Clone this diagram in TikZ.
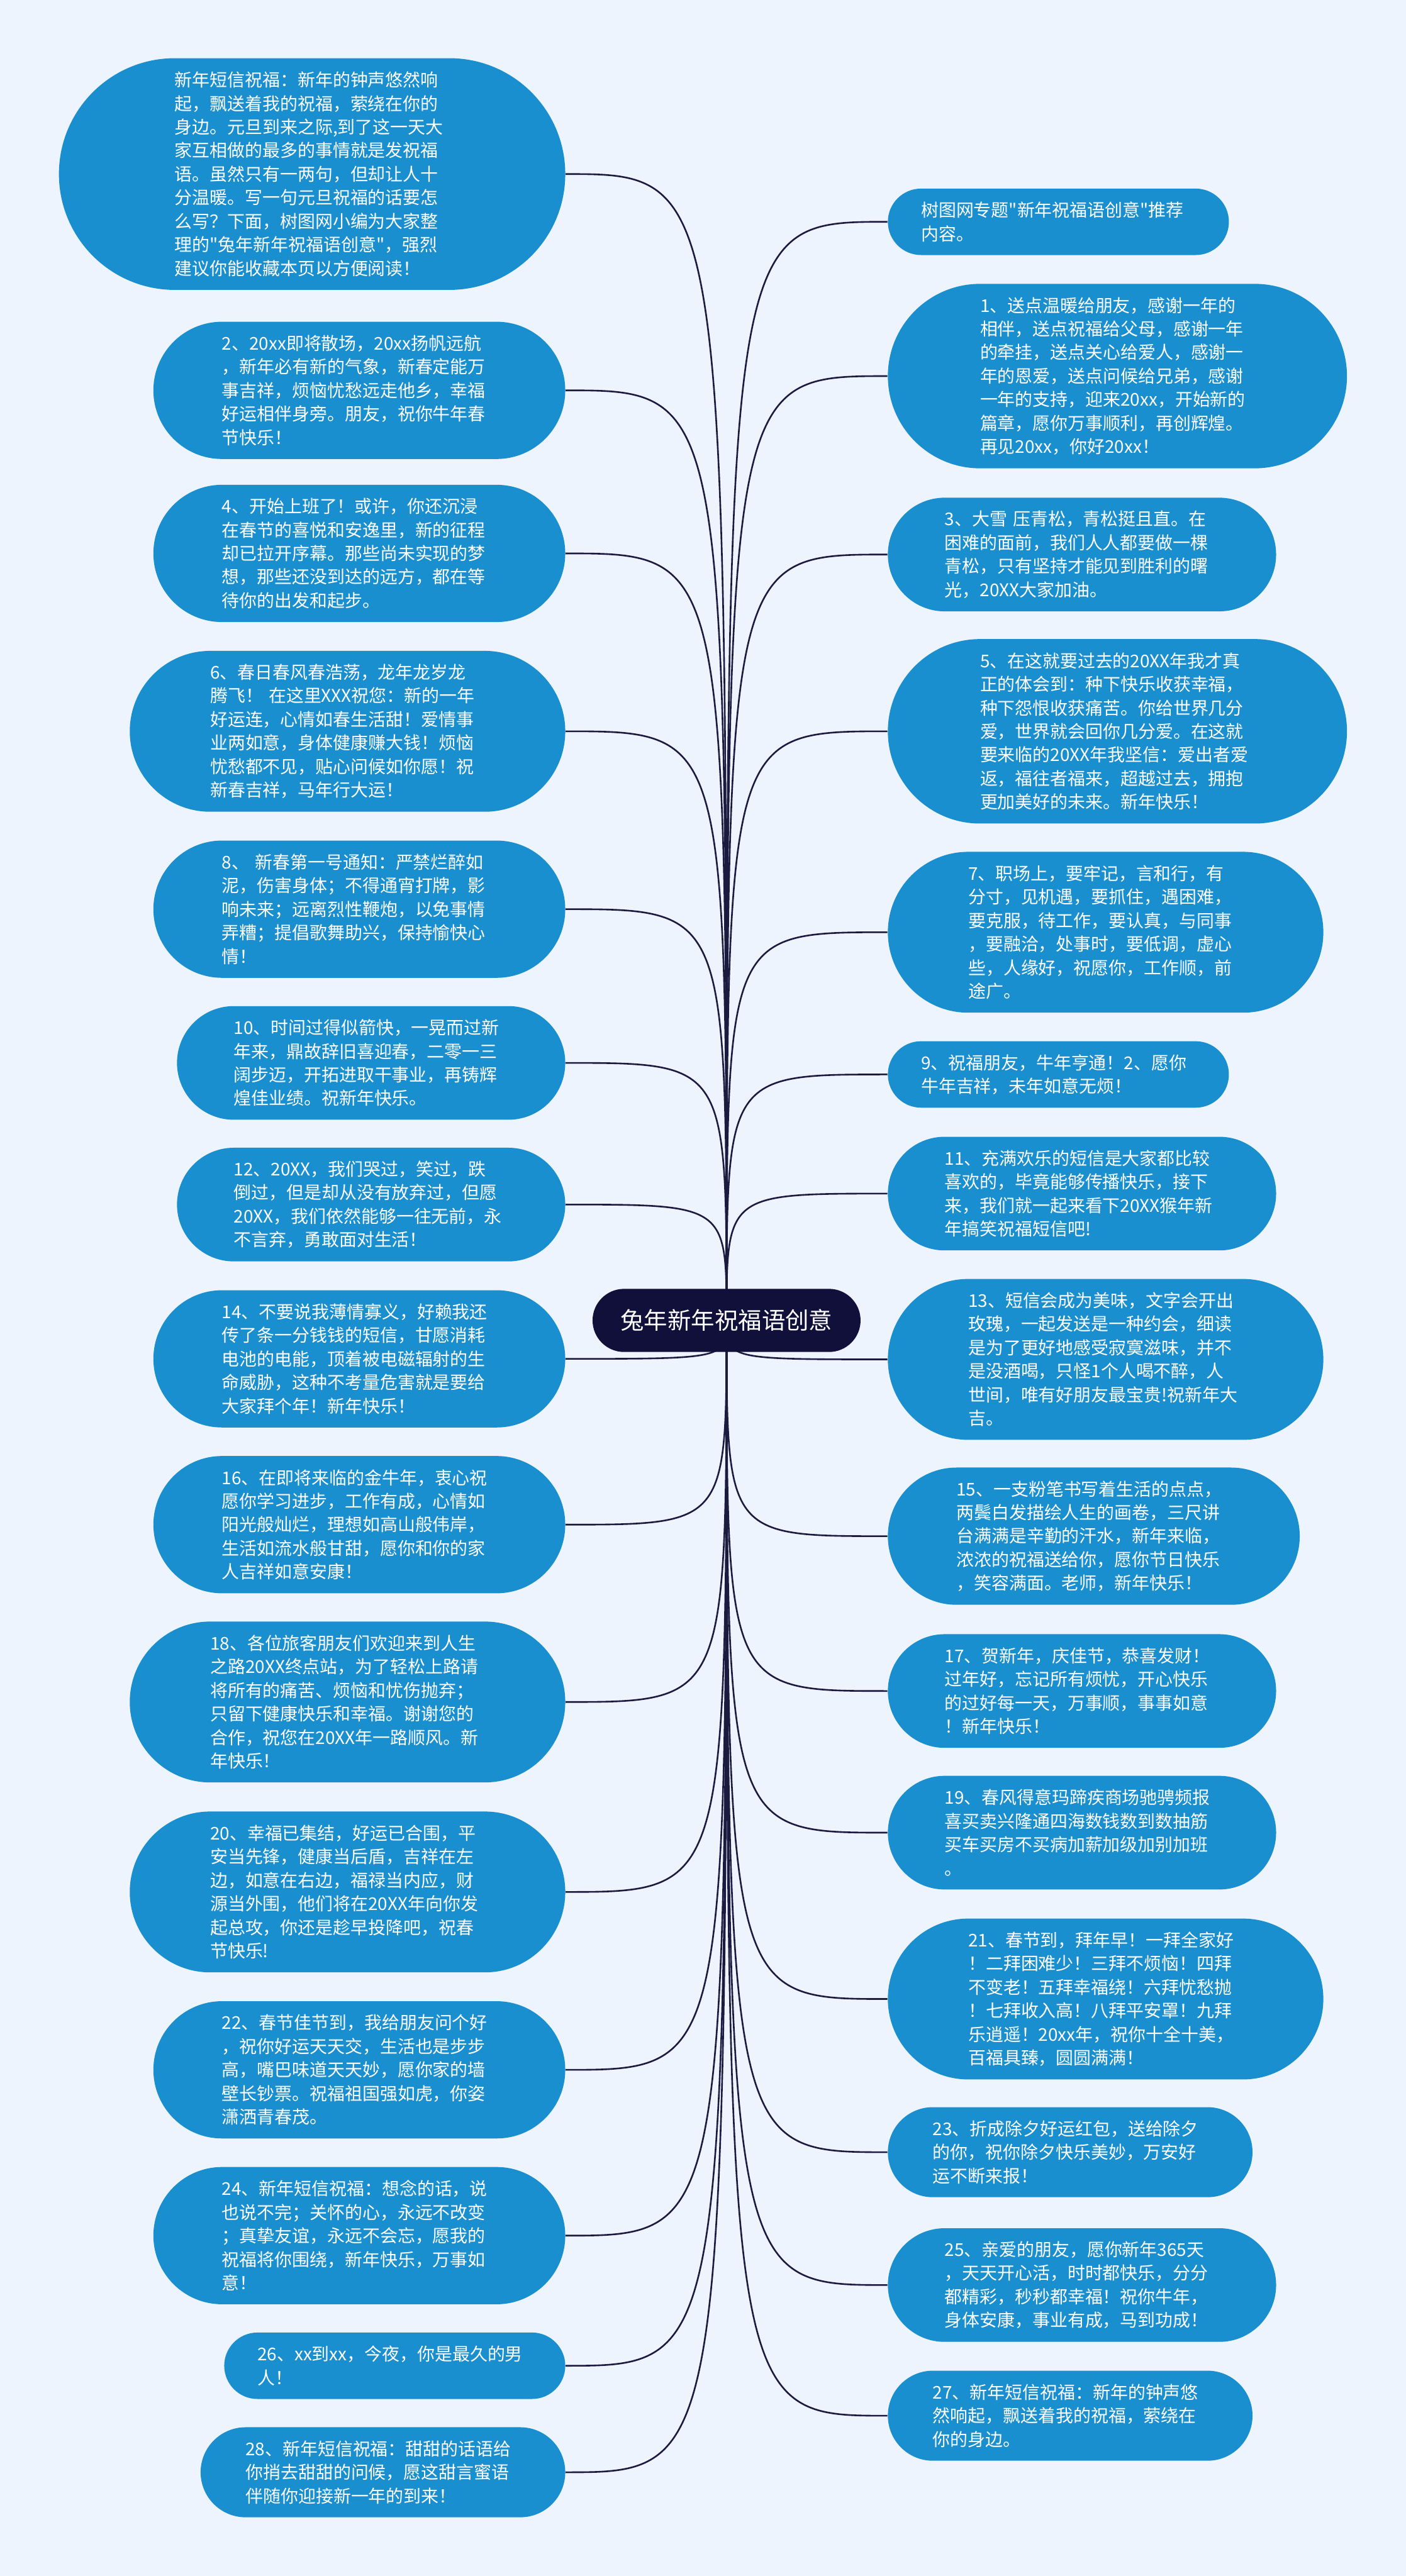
\documentclass[tikz,border=0pt]{standalone}
\usepackage{fontspec}
\newfontfamily\cjk{Noto Sans CJK SC}
\usetikzlibrary{shapes.misc,backgrounds}
\definecolor{pageblue}{HTML}{EEF4FD}
\definecolor{wishblue}{HTML}{1A8FD0}
\definecolor{rootnavy}{HTML}{10103A}
\definecolor{linknavy}{HTML}{1B1B3F}

\begin{document}
\begin{tikzpicture}[
    wish/.style={rounded rectangle,fill=wishblue,text=white,inner xsep=0pt,inner ysep=0pt,text width=5cm,align=left,minimum height=#1cm,minimum width=5cm+#1cm,font=\cjk\fontsize{9.1pt}{12.2pt}\selectfont},
    root/.style={rounded rectangle,fill=rootnavy,text=white,inner xsep=0pt,minimum height=1.15cm,minimum width=4.88cm,font=\cjk\fontsize{12.2pt}{14pt}\selectfont},
    link/.style={linknavy,line width=0.85pt}
  ]
    \useasboundingbox (0,0) rectangle (25.6,-46.92);

    \node[root] (root) at (13.23,-24.05) {兔年新年祝福语创意};

    % left column
    \node[wish=4.22,anchor=east] (l0) at (10.30,-3.17) {新年短信祝福：新年的钟声悠然响\\起，飘送着我的祝福，萦绕在你的\\身边。元旦到来之际,到了这一天大\\家互相做的最多的事情就是发祝福\\语。虽然只有一两句，但却让人十\\分温暖。写一句元旦祝福的话要怎\\么写？下面，树图网小编为大家整\\理的"兔年新年祝福语创意"，强烈\\建议你能收藏本页以方便阅读！};
    \node[wish=2.50,anchor=east] (l2) at (10.30,-7.11) {2、20xx即将散场，20xx扬帆远航\\，新年必有新的气象，新春定能万\\事吉祥，烦恼忧愁远走他乡，幸福\\好运相伴身旁。朋友，祝你牛年春\\节快乐！};
    \node[wish=2.50,anchor=east] (l4) at (10.30,-10.08) {4、开始上班了！或许，你还沉浸\\在春节的喜悦和安逸里，新的征程\\却已拉开序幕。那些尚未实现的梦\\想，那些还没到达的远方，都在等\\待你的出发和起步。};
    \node[wish=2.93,anchor=east] (l6) at (10.30,-13.32) {6、春日春风春浩荡，龙年龙岁龙\\腾飞！ 在这里XXX祝您：新的一年\\好运连，心情如春生活甜！爱情事\\业两如意，身体健康赚大钱！烦恼\\忧愁都不见，贴心问候如你愿！祝\\新春吉祥，马年行大运！};
    \node[wish=2.50,anchor=east] (l8) at (10.30,-16.56) {8、 新春第一号通知：严禁烂醉如\\泥，伤害身体；不得通宵打牌，影\\响未来；远离烈性鞭炮，以免事情\\弄糟；提倡歌舞助兴，保持愉快心\\情！};
    \node[wish=2.07,anchor=east] (l10) at (10.30,-19.36) {10、时间过得似箭快，一晃而过新\\年来，鼎故辞旧喜迎春，二零一三\\阔步迈，开拓进取干事业，再铸辉\\煌佳业绩。祝新年快乐。};
    \node[wish=2.07,anchor=east] (l12) at (10.30,-21.94) {12、20XX，我们哭过，笑过，跌\\倒过，但是却从没有放弃过，但愿\\20XX，我们依然能够一往无前，永\\不言弃，勇敢面对生活！};
    \node[wish=2.50,anchor=east] (l14) at (10.30,-24.75) {14、不要说我薄情寡义，好赖我还\\传了条一分钱钱的短信，甘愿消耗\\电池的电能，顶着被电磁辐射的生\\命威胁，这种不考量危害就是要给\\大家拜个年！新年快乐！};
    \node[wish=2.50,anchor=east] (l16) at (10.30,-27.77) {16、在即将来临的金牛年，衷心祝\\愿你学习进步，工作有成，心情如\\阳光般灿烂，理想如高山般伟岸，\\生活如流水般甘甜，愿你和你的家\\人吉祥如意安康！};
    \node[wish=2.93,anchor=east] (l18) at (10.30,-31.00) {18、各位旅客朋友们欢迎来到人生\\之路20XX终点站，为了轻松上路请\\将所有的痛苦、烦恼和忧伤抛弃；\\只留下健康快乐和幸福。谢谢您的\\合作，祝您在20XX年一路顺风。新\\年快乐！};
    \node[wish=2.93,anchor=east] (l20) at (10.30,-34.46) {20、幸福已集结，好运已合围，平\\安当先锋，健康当后盾，吉祥在左\\边，如意在右边，福禄当内应，财\\源当外围，他们将在20XX年向你发\\起总攻，你还是趁早投降吧，祝春\\节快乐!};
    \node[wish=2.50,anchor=east] (l22) at (10.30,-37.70) {22、春节佳节到，我给朋友问个好\\，祝你好运天天交，生活也是步步\\高，嘴巴味道天天妙，愿你家的墙\\壁长钞票。祝福祖国强如虎，你姿\\潇洒青春茂。};
    \node[wish=2.50,anchor=east] (l24) at (10.30,-40.72) {24、新年短信祝福：想念的话，说\\也说不完；关怀的心，永远不改变\\；真挚友谊，永远不会忘，愿我的\\祝福将你围绕，新年快乐，万事如\\意！};
    \node[wish=1.21,anchor=east] (l26) at (10.30,-43.09) {26、xx到xx，今夜，你是最久的男\\人！};
    \node[wish=1.64,anchor=east] (l28) at (10.30,-45.03) {28、新年短信祝福：甜甜的话语给\\你捎去甜甜的问候，愿这甜言蜜语\\伴随你迎接新一年的到来！};

    % right column
    \node[wish=1.21,anchor=west] (r0) at (16.16,-4.04) {树图网专题"新年祝福语创意"推荐\\内容。};
    \node[wish=3.36,anchor=west] (r1) at (16.16,-6.85) {1、送点温暖给朋友，感谢一年的\\相伴，送点祝福给父母，感谢一年\\的牵挂，送点关心给爱人，感谢一\\年的恩爱，送点问候给兄弟，感谢\\一年的支持，迎来20xx，开始新的\\篇章，愿你万事顺利，再创辉煌。\\再见20xx，你好20xx！};
    \node[wish=2.07,anchor=west] (r3) at (16.16,-10.10) {3、大雪 压青松，青松挺且直。在\\困难的面前，我们人人都要做一棵\\青松，只有坚持才能见到胜利的曙\\光，20XX大家加油。};
    \node[wish=3.36,anchor=west] (r5) at (16.16,-13.32) {5、在这就要过去的20XX年我才真\\正的体会到：种下快乐收获幸福，\\种下怨恨收获痛苦。你给世界几分\\爱，世界就会回你几分爱。在这就\\要来临的20XX年我坚信：爱出者爱\\返，福往者福来，超越过去，拥抱\\更加美好的未来。新年快乐！};
    \node[wish=2.93,anchor=west] (r7) at (16.16,-16.98) {7、职场上，要牢记，言和行，有\\分寸，见机遇，要抓住，遇困难，\\要克服，待工作，要认真，与同事\\，要融洽，处事时，要低调，虚心\\些，人缘好，祝愿你，工作顺，前\\途广。};
    \node[wish=1.21,anchor=west] (r9) at (16.16,-19.57) {9、祝福朋友，牛年亨通！2、愿你\\牛年吉祥，未年如意无烦！};
    \node[wish=2.07,anchor=west] (r11) at (16.16,-21.74) {11、充满欢乐的短信是大家都比较\\喜欢的，毕竟能够传播快乐，接下\\来，我们就一起来看下20XX猴年新\\年搞笑祝福短信吧!};
    \node[wish=2.93,anchor=west] (r13) at (16.16,-24.76) {13、短信会成为美味，文字会开出\\玫瑰，一起发送是一种约会，细读\\是为了更好地感受寂寞滋味，并不\\是没酒喝，只怪1个人喝不醉，人\\世间，唯有好朋友最宝贵!祝新年大\\吉。};
    \node[wish=2.50,anchor=west] (r15) at (16.16,-27.98) {15、一支粉笔书写着生活的点点，\\两鬓白发描绘人生的画卷，三尺讲\\台满满是辛勤的汗水，新年来临，\\浓浓的祝福送给你，愿你节日快乐\\，笑容满面。老师，新年快乐！};
    \node[wish=2.07,anchor=west] (r17) at (16.16,-30.80) {17、贺新年，庆佳节，恭喜发财！\\过年好，忘记所有烦忧，开心快乐\\的过好每一天，万事顺，事事如意\\！新年快乐！};
    \node[wish=2.07,anchor=west] (r19) at (16.16,-33.38) {19、春风得意玛蹄疾商场驰骋频报\\喜买卖兴隆通四海数钱数到数抽筋\\买车买房不买病加薪加级加别加班\\。};
    \node[wish=2.93,anchor=west] (r21) at (16.16,-36.41) {21、春节到，拜年早！一拜全家好\\！二拜困难少！三拜不烦恼！四拜\\不变老！五拜幸福绕！六拜忧愁抛\\！七拜收入高！八拜平安罩！九拜\\乐逍遥！20xx年，祝你十全十美，\\百福具臻，圆圆满满！};
    \node[wish=1.64,anchor=west] (r23) at (16.16,-39.20) {23、折成除夕好运红包，送给除夕\\的你，祝你除夕快乐美妙，万安好\\运不断来报！};
    \node[wish=2.07,anchor=west] (r25) at (16.16,-41.62) {25、亲爱的朋友，愿你新年365天\\，天天开心活，时时都快乐，分分\\都精彩，秒秒都幸福！祝你牛年，\\身体安康，事业有成，马到功成！};
    \node[wish=1.64,anchor=west] (r27) at (16.16,-44.00) {27、新年短信祝福：新年的钟声悠\\然响起，飘送着我的祝福，萦绕在\\你的身边。};

    \begin{pgfonlayer}{background}
      \fill[pageblue] (0,0) rectangle (25.6,-46.92);

      \draw[link] (root.center) .. controls (root.center |- l0.east) .. (l0.east);
      \draw[link] (root.center) .. controls (root.center |- l2.east) .. (l2.east);
      \draw[link] (root.center) .. controls (root.center |- l4.east) .. (l4.east);
      \draw[link] (root.center) .. controls (root.center |- l6.east) .. (l6.east);
      \draw[link] (root.center) .. controls (root.center |- l8.east) .. (l8.east);
      \draw[link] (root.center) .. controls (root.center |- l10.east) .. (l10.east);
      \draw[link] (root.center) .. controls (root.center |- l12.east) .. (l12.east);
      \draw[link] (root.center) .. controls (root.center |- l14.east) .. (l14.east);
      \draw[link] (root.center) .. controls (root.center |- l16.east) .. (l16.east);
      \draw[link] (root.center) .. controls (root.center |- l18.east) .. (l18.east);
      \draw[link] (root.center) .. controls (root.center |- l20.east) .. (l20.east);
      \draw[link] (root.center) .. controls (root.center |- l22.east) .. (l22.east);
      \draw[link] (root.center) .. controls (root.center |- l24.east) .. (l24.east);
      \draw[link] (root.center) .. controls (root.center |- l26.east) .. (l26.east);
      \draw[link] (root.center) .. controls (root.center |- l28.east) .. (l28.east);

      \draw[link] (root.center) .. controls (root.center |- r0.west) .. (r0.west);
      \draw[link] (root.center) .. controls (root.center |- r1.west) .. (r1.west);
      \draw[link] (root.center) .. controls (root.center |- r3.west) .. (r3.west);
      \draw[link] (root.center) .. controls (root.center |- r5.west) .. (r5.west);
      \draw[link] (root.center) .. controls (root.center |- r7.west) .. (r7.west);
      \draw[link] (root.center) .. controls (root.center |- r9.west) .. (r9.west);
      \draw[link] (root.center) .. controls (root.center |- r11.west) .. (r11.west);
      \draw[link] (root.center) .. controls (root.center |- r13.west) .. (r13.west);
      \draw[link] (root.center) .. controls (root.center |- r15.west) .. (r15.west);
      \draw[link] (root.center) .. controls (root.center |- r17.west) .. (r17.west);
      \draw[link] (root.center) .. controls (root.center |- r19.west) .. (r19.west);
      \draw[link] (root.center) .. controls (root.center |- r21.west) .. (r21.west);
      \draw[link] (root.center) .. controls (root.center |- r23.west) .. (r23.west);
      \draw[link] (root.center) .. controls (root.center |- r25.west) .. (r25.west);
      \draw[link] (root.center) .. controls (root.center |- r27.west) .. (r27.west);
    \end{pgfonlayer}
\end{tikzpicture}
\end{document}
